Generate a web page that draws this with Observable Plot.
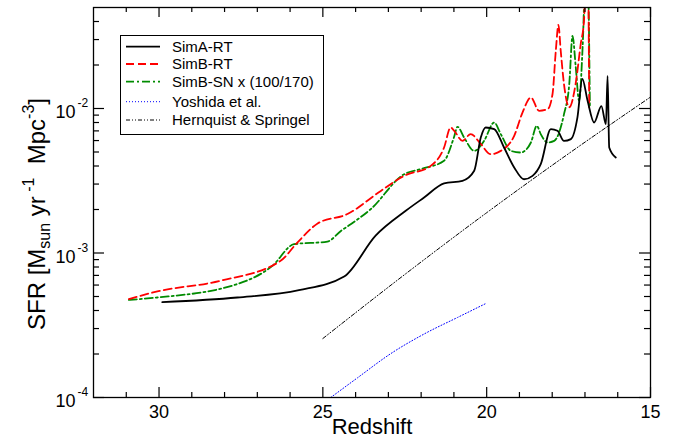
<!DOCTYPE html>
<html><head><meta charset="utf-8">
<script src="https://cdn.jsdelivr.net/npm/d3@7"></script>
<script src="https://cdn.jsdelivr.net/npm/@observablehq/plot@0.6"></script>
<style>body{margin:0;background:#fff}svg{display:block}</style>
</head><body><div id="chart"></div>
<script>
// ---- data ----
const simA_z   = [29.90, 27.61, 25.73, 24.35, 23.39, 22.47, 21.91, 21.30, 20.74, 20.38, 20.18, 20.03, 19.77, 19.47, 19.16, 18.86, 18.60, 18.35, 18.04, 17.84, 17.64, 17.43, 17.23, 17.08, 16.92, 16.72, 16.50, 16.36, 16.31, 16.26, 16.06];
const simA_sfr = [4.57e-4, 4.92e-4, 5.53e-4, 6.87e-4, 1.32e-3, 1.96e-3, 2.42e-3, 3.03e-3, 3.16e-3, 3.71e-3, 6.30e-3, 7.39e-3, 7.20e-3, 5.37e-3, 3.91e-3, 3.24e-3, 3.42e-3, 4.12e-3, 7.20e-3, 7.01e-3, 5.97e-3, 6.14e-3, 8.67e-3, 1.60e-2, 1.13e-2, 8.00e-3, 1.04e-2, 7.80e-3, 1.68e-2, 5.37e-3, 4.58e-3];

const simBRT_z   = [30.92, 30.05, 28.12, 26.29, 25.78, 25.16, 24.25, 23.23, 22.52, 21.71, 21.30, 21.10, 20.99, 20.74, 20.49, 20.18, 19.88, 19.57, 19.16, 18.91, 18.65, 18.40, 18.14, 17.99, 17.89, 17.81, 17.74, 17.64, 17.48, 17.28, 17.13, 17.03, 16.96, 16.91, 16.87];
const simBRT_sfr = [4.80e-4, 5.42e-4, 6.43e-4, 8.83e-4, 1.18e-3, 1.60e-3, 1.86e-3, 2.69e-3, 3.42e-3, 4.01e-3, 5.37e-3, 7.39e-3, 7.01e-3, 5.97e-3, 6.65e-3, 5.68e-3, 4.83e-3, 5.09e-3, 6.47e-3, 9.33e-3, 1.19e-2, 9.64e-3, 9.90e-3, 1.26e-2, 2.51e-2, 3.79e-2, 2.51e-2, 1.47e-2, 1.02e-2, 1.51e-2, 2.79e-2, 4.05e-2, 9.0e-2, 9.0e-2, 1.02e-2];

const simBSN_z   = [30.92, 30.05, 27.61, 26.54, 25.88, 24.86, 24.45, 24.15, 23.54, 22.52, 22.01, 21.30, 21.00, 20.89, 20.69, 20.38, 20.08, 19.77, 19.57, 19.26, 18.96, 18.65, 18.47, 18.35, 18.14, 17.94, 17.64, 17.48, 17.38, 17.28, 17.18, 17.07, 16.98, 16.92, 16.85];
const simBSN_sfr = [4.74e-4, 4.92e-4, 6.10e-4, 8.15e-4, 1.15e-3, 1.20e-3, 1.42e-3, 1.58e-3, 2.01e-3, 3.51e-3, 3.81e-3, 4.35e-3, 6.30e-3, 7.47e-3, 6.30e-3, 5.09e-3, 5.97e-3, 8.00e-3, 6.65e-3, 5.09e-3, 4.96e-3, 5.82e-3, 7.59e-3, 6.65e-3, 5.82e-3, 5.97e-3, 9.14e-3, 1.47e-2, 3.18e-2, 1.92e-2, 1.13e-2, 2.72e-2, 9.0e-2, 9.0e-2, 1.04e-2];

const yoshida_z   = [24.76, 23.94, 22.93, 21.91, 20.89, 20.0];
const yoshida_sfr = [1.0e-4, 1.37e-4, 2.01e-4, 2.75e-4, 3.58e-4, 4.50e-4];

const hernquist_z   = [25, 22.5, 20, 17.5, 15];
const hernquist_sfr = [2.56e-4, 7.1e-4, 1.90e-3, 4.87e-3, 1.20e-2];

const xMajorTicks = [30, 25, 20, 15];
const xMinorTicks = [31, 29, 28, 27, 26, 24, 23, 22, 21, 19, 18, 17, 16];
const yMajorTicks = [1e-4, 1e-3, 1e-2];
const yMinorTicks = [2e-4,3e-4,4e-4,5e-4,6e-4,7e-4,8e-4,9e-4,2e-3,3e-3,4e-3,5e-3,6e-3,7e-3,8e-3,9e-3,2e-2,3e-2,4e-2];

const legendLabels = ["SimA-RT", "SimB-RT", "SimB-SN x (100/170)", "Yoshida et al.", "Hernquist & Springel"];
const xLabel = "Redshift";

// ---- tables ----
const toRows = (zs, vs) => zs.map((z, i) => ({z, sfr: vs[i]}));
const simA = toRows(simA_z, simA_sfr);
const simBRT = toRows(simBRT_z, simBRT_sfr);
const simBSN = toRows(simBSN_z, simBSN_sfr);
const yoshida = toRows(yoshida_z, yoshida_sfr);
const hernquist = toRows(hernquist_z, hernquist_sfr);

// ---- styles ----
const S = {
  simA:  {stroke: "#000000", strokeWidth: 1.8, strokeDasharray: null},
  simBRT:{stroke: "#ff0000", strokeWidth: 1.8, strokeDasharray: "8,4"},
  simBSN:{stroke: "#008b00", strokeWidth: 1.8, strokeDasharray: "8,3,2,3"},
  yosh:  {stroke: "#0000ff", strokeWidth: 1, strokeDasharray: "1,2"},
  hern:  {stroke: "#000000", strokeWidth: 1, strokeDasharray: "4,2,1,2,1,2"}
};

const W = 684, H = 443, mL = 93, mR = 34, mT = 7, mB = 46;
const iw = W - mL - mR, ih = H - mT - mB;
const font = "Arial, 'Liberation Sans', Helvetica, sans-serif";

const line = (data, st, curve) => Plot.line(data, {x: "z", y: "sfr", ...st, curve, clip: true, strokeLinejoin: "round"});
// inward ticks drawn as short rules along the frame
const tk = {stroke: "black", strokeWidth: 1.2};
const ticksBottom = (v, n) => Plot.ruleX(v, {x: d => d, insetTop: ih - n, ...tk});
const ticksTop    = (v, n) => Plot.ruleX(v, {x: d => d, insetBottom: ih - n, ...tk});
const ticksLeft   = (v, n) => Plot.ruleY(v, {y: d => d, insetRight: iw - n, ...tk});
const ticksRight  = (v, n) => Plot.ruleY(v, {y: d => d, insetLeft: iw - n, ...tk});

const chart = Plot.plot({
  width: W, height: H,
  marginLeft: mL, marginRight: mR, marginTop: mT, marginBottom: mB,
  style: {fontFamily: font, background: "white", color: "black", overflow: "visible"},
  x: {domain: [32, 15], axis: null},
  y: {type: "log", domain: [1e-4, 0.05], axis: null},
  marks: [
    line(yoshida, S.yosh, "monotone-x"),
    line(hernquist, S.hern, "monotone-x"),
    line(simBSN, S.simBSN, "monotone-x"),
    line(simBRT, S.simBRT, "monotone-x"),
    line(simA, S.simA, "monotone-x"),
    ticksBottom(xMinorTicks, 5), ticksBottom(xMajorTicks, 10),
    ticksTop(xMinorTicks, 5), ticksTop(xMajorTicks, 10),
    ticksLeft(yMinorTicks, 6), ticksLeft(yMajorTicks, 11),
    ticksRight(yMinorTicks, 6), ticksRight(yMajorTicks, 11),
    Plot.frame({stroke: "black", strokeWidth: 1.3}),
    Plot.axisX({ticks: xMajorTicks, tickSize: 0, tickPadding: 8, fontSize: 18, tickFormat: d => String(d), label: null}),
    Plot.axisY({ticks: yMajorTicks, tickSize: 0, tickPadding: 18, fontSize: 18, tickFormat: () => "10", label: null, dy: 4}),
    Plot.axisY({ticks: yMajorTicks, tickSize: 0, tickPadding: 16, fontSize: 12, textAnchor: "start", tickFormat: d => "-" + Math.round(-Math.log10(d)), label: null, dy: -5}),
    Plot.text([xLabel], {frameAnchor: "bottom", dy: 36, fontSize: 22})
  ]
});

document.getElementById("chart").appendChild(chart);
const svg = d3.select(chart);

// y-axis label with sub/superscripts
const t = svg.append("text")
  .attr("transform", `translate(45,${mT + ih / 2 + 12}) rotate(-90)`)
  .attr("text-anchor", "middle")
  .attr("font-size", 24)
  .attr("font-family", font)
  .attr("fill", "black")
  .style("white-space", "pre");
t.append("tspan").text("SFR [M");
t.append("tspan").attr("font-size", 16).attr("dy", 5).text("sun");
t.append("tspan").attr("dy", -5).text(" yr");
t.append("tspan").attr("font-size", 16).attr("dy", -11).text(" -1");
t.append("tspan").attr("dy", 11).text("  Mpc");
t.append("tspan").attr("font-size", 16).attr("dy", -11).text("-3");
t.append("tspan").attr("dy", 11).text("]");

// legend
const lg = svg.append("g").attr("font-family", font).attr("font-size", 15).attr("text-anchor", "start");
lg.append("rect").attr("x", 120.5).attr("y", 35.5).attr("width", 203).attr("height", 99)
  .attr("fill", "white").attr("stroke", "black").attr("stroke-width", 1);
const legendStyles = [S.simA, S.simBRT, S.simBSN, S.yosh, S.hern];
const rowsY = [46.7, 64, 81.7, 101.7, 120];
legendLabels.forEach((lab, i) => {
  const st = legendStyles[i];
  lg.append("line").attr("x1", 126).attr("x2", 160).attr("y1", rowsY[i]).attr("y2", rowsY[i])
    .attr("stroke", st.stroke).attr("stroke-width", st.strokeWidth)
    .attr("stroke-dasharray", st.strokeDasharray);
  lg.append("text").attr("x", 172).attr("y", rowsY[i]).attr("dy", "0.35em").attr("fill", "black").text(lab);
});
</script>
</body></html>
